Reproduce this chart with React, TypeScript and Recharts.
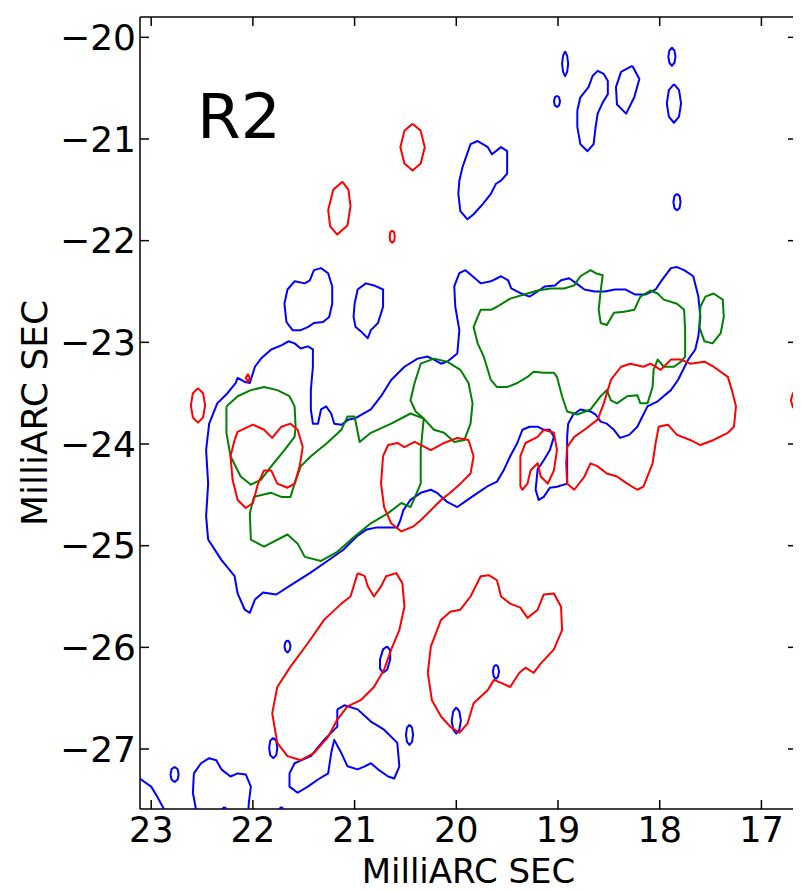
import React from 'react';
import { ComposedChart, Scatter, XAxis, YAxis, Customized } from 'recharts';

type Pt = [number, number];

// ---- axes / labels ----
const xTicks = [17, 18, 19, 20, 21, 22, 23];
const yTicks = [-27, -26, -25, -24, -23, -22, -21, -20];
const xDomain: [number, number] = [16.65, 23.11];
const yDomain: [number, number] = [-27.59, -19.8];
const axisTitle = 'MilliARC SEC';
const panelLabel = 'R2';

// ---- blue contours ----
const blueMain: Pt[] = [[22.44,-24.94],[22.46,-24.71],[22.44,-24.39],[22.46,-24.06],[22.43,-23.8],[22.35,-23.6],[22.25,-23.5],[22.17,-23.4],[22.15,-23.35],[22.08,-23.39],[22.03,-23.4],[21.98,-23.24],[21.92,-23.16],[21.82,-23.07],[21.72,-23.03],[21.65,-22.99],[21.59,-23.01],[21.53,-23.06],[21.46,-23.04],[21.41,-23.07],[21.41,-23.24],[21.43,-23.47],[21.43,-23.66],[21.41,-23.8],[21.36,-23.8],[21.33,-23.66],[21.28,-23.63],[21.23,-23.7],[21.2,-23.8],[21.13,-23.81],[21.06,-23.76],[21.0,-23.75],[20.84,-23.66],[20.74,-23.53],[20.64,-23.37],[20.51,-23.24],[20.38,-23.16],[20.28,-23.14],[20.22,-23.17],[20.15,-23.21],[20.09,-23.19],[19.99,-23.11],[19.97,-22.88],[20.01,-22.65],[20.02,-22.45],[19.97,-22.32],[19.91,-22.29],[19.84,-22.35],[19.76,-22.42],[19.66,-22.4],[19.56,-22.35],[19.49,-22.39],[19.46,-22.47],[19.36,-22.52],[19.28,-22.55],[19.2,-22.5],[19.13,-22.45],[19.03,-22.44],[18.97,-22.39],[18.89,-22.37],[18.82,-22.42],[18.74,-22.48],[18.64,-22.5],[18.54,-22.5],[18.44,-22.48],[18.34,-22.48],[18.24,-22.53],[18.14,-22.53],[18.04,-22.48],[17.98,-22.39],[17.89,-22.27],[17.83,-22.26],[17.76,-22.29],[17.67,-22.35],[17.62,-22.55],[17.6,-22.75],[17.62,-22.94],[17.65,-23.07],[17.72,-23.17],[17.77,-23.27],[17.82,-23.37],[17.89,-23.47],[18.02,-23.58],[18.12,-23.63],[18.17,-23.73],[18.22,-23.83],[18.3,-23.91],[18.39,-23.94],[18.45,-23.86],[18.52,-23.8],[18.58,-23.78],[18.63,-23.71],[18.68,-23.68],[18.78,-23.66],[18.85,-23.71],[18.9,-23.8],[18.91,-23.93],[18.91,-24.12],[18.91,-24.39],[19.01,-24.42],[19.08,-24.43],[19.14,-24.52],[19.19,-24.55],[19.22,-24.45],[19.2,-24.25],[19.14,-24.16],[19.08,-24.06],[19.04,-23.93],[19.08,-23.86],[19.14,-23.86],[19.2,-23.83],[19.28,-23.83],[19.35,-23.86],[19.4,-23.99],[19.47,-24.12],[19.53,-24.25],[19.6,-24.37],[19.7,-24.42],[19.79,-24.48],[19.89,-24.55],[19.99,-24.62],[20.09,-24.57],[20.19,-24.48],[20.25,-24.45],[20.35,-24.48],[20.45,-24.55],[20.52,-24.65],[20.55,-24.75],[20.58,-24.82],[20.78,-24.82],[20.88,-24.84],[20.98,-24.91],[21.11,-25.04],[21.31,-25.18],[21.44,-25.27],[21.6,-25.37],[21.77,-25.48],[21.9,-25.46],[21.98,-25.53],[22.03,-25.66],[22.08,-25.63],[22.15,-25.47],[22.18,-25.3],[22.31,-25.14]];
const blueTopBlobA: Pt[] = [[18.81,-20.72],[18.78,-20.59],[18.7,-20.49],[18.66,-20.38],[18.61,-20.33],[18.55,-20.36],[18.51,-20.43],[18.51,-20.56],[18.56,-20.64],[18.61,-20.75],[18.63,-20.88],[18.65,-21.05],[18.71,-21.12],[18.78,-21.05],[18.81,-20.88]];
const blueTopBlobB: Pt[] = [[18.27,-20.28],[18.2,-20.41],[18.25,-20.59],[18.33,-20.75],[18.42,-20.66],[18.43,-20.49],[18.38,-20.34]];
const blueTopDot1: Pt[] = [[18.93,-20.14],[18.91,-20.18],[18.9,-20.26],[18.91,-20.34],[18.93,-20.38],[18.95,-20.34],[18.96,-20.26],[18.95,-20.18]];
const blueTopDot2: Pt[] = [[19.01,-20.575],[18.99,-20.59],[18.98,-20.63],[18.99,-20.67],[19.01,-20.685],[19.03,-20.67],[19.04,-20.63],[19.03,-20.59]];
const blueTopDot3: Pt[] = [[17.88,-20.1],[17.855,-20.13],[17.845,-20.19],[17.855,-20.25],[17.88,-20.28],[17.905,-20.25],[17.915,-20.19],[17.905,-20.13]];
const blueTopOval: Pt[] = [[17.86,-20.46],[17.81,-20.52],[17.79,-20.65],[17.81,-20.78],[17.86,-20.84],[17.91,-20.78],[17.93,-20.65],[17.91,-20.52]];
const blueTopDot4: Pt[] = [[17.83,-21.54],[17.805,-21.56],[17.795,-21.62],[17.805,-21.68],[17.83,-21.7],[17.855,-21.68],[17.865,-21.62],[17.855,-21.56]];
const blueBlobC: Pt[] = [[19.97,-21.41],[19.94,-21.28],[19.86,-21.05],[19.79,-21.02],[19.69,-21.08],[19.65,-21.15],[19.56,-21.08],[19.5,-21.12],[19.5,-21.34],[19.56,-21.41],[19.61,-21.44],[19.66,-21.54],[19.74,-21.64],[19.83,-21.74],[19.89,-21.79],[19.96,-21.71],[19.98,-21.54]];
const blueBlobD: Pt[] = [[21.69,-22.62],[21.66,-22.48],[21.59,-22.4],[21.49,-22.42],[21.44,-22.39],[21.4,-22.29],[21.33,-22.27],[21.26,-22.32],[21.22,-22.45],[21.22,-22.62],[21.25,-22.75],[21.31,-22.8],[21.4,-22.81],[21.46,-22.85],[21.53,-22.88],[21.61,-22.88],[21.67,-22.8]];
const blueBlobE: Pt[] = [[21.0,-22.62],[20.97,-22.48],[20.89,-22.42],[20.81,-22.44],[20.72,-22.48],[20.72,-22.65],[20.77,-22.81],[20.84,-22.88],[20.87,-22.96],[20.94,-22.89],[20.99,-22.85],[21.01,-22.75]];
const blueLowBlob: Pt[] = [[21.17,-26.61],[21.1,-26.57],[20.97,-26.61],[20.84,-26.73],[20.71,-26.81],[20.58,-26.94],[20.56,-27.17],[20.61,-27.29],[20.67,-27.27],[20.77,-27.2],[20.84,-27.14],[20.9,-27.17],[20.97,-27.2],[21.07,-27.17],[21.13,-27.04],[21.2,-26.91],[21.23,-27.04],[21.26,-27.24],[21.36,-27.3],[21.46,-27.37],[21.56,-27.43],[21.64,-27.37],[21.64,-27.24],[21.59,-27.14],[21.43,-27.07],[21.3,-26.91],[21.17,-26.78]];
const blueCornerBlob: Pt[] = [[22.58,-27.24],[22.51,-27.14],[22.43,-27.09],[22.36,-27.11],[22.31,-27.2],[22.22,-27.27],[22.15,-27.24],[22.07,-27.25],[22.02,-27.37],[22.04,-27.53],[22.05,-27.7],[22.54,-27.7],[22.59,-27.43]];
const blueEdgeBlob: Pt[] = [[23.2,-27.16],[23.1,-27.3],[23.0,-27.37],[22.94,-27.47],[22.87,-27.6],[22.85,-27.72],[23.2,-27.72]];
const blueLowDot1: Pt[] = [[19.61,-26.17],[19.59,-26.19],[19.58,-26.24],[19.59,-26.29],[19.61,-26.31],[19.63,-26.29],[19.64,-26.24],[19.63,-26.19]];
const blueLowDot2: Pt[] = [[20.0,-26.59],[19.97,-26.63],[19.955,-26.72],[19.97,-26.81],[20.0,-26.85],[20.03,-26.81],[20.045,-26.72],[20.03,-26.63]];
const blueLowDot3: Pt[] = [[20.46,-26.76],[20.435,-26.79],[20.425,-26.86],[20.435,-26.93],[20.46,-26.96],[20.485,-26.93],[20.495,-26.86],[20.485,-26.79]];
const blueLowDot4: Pt[] = [[20.68,-25.99],[20.65,-26.03],[20.65,-26.12],[20.68,-26.22],[20.72,-26.25],[20.75,-26.21],[20.75,-26.12],[20.72,-26.02]];
const blueLowDot5: Pt[] = [[21.66,-25.93],[21.64,-25.95],[21.63,-25.99],[21.64,-26.03],[21.66,-26.05],[21.68,-26.03],[21.69,-25.99],[21.68,-25.95]];
const blueLowDot6: Pt[] = [[21.8,-26.89],[21.77,-26.92],[21.76,-26.99],[21.77,-27.06],[21.8,-27.09],[21.83,-27.06],[21.84,-26.99],[21.83,-26.92]];
const blueLowDot7: Pt[] = [[22.77,-27.175],[22.74,-27.2],[22.73,-27.25],[22.74,-27.3],[22.77,-27.325],[22.8,-27.3],[22.81,-27.25],[22.8,-27.2]];
const blueEdgeDot1: Pt[] = [[22.28,-27.57],[22.26,-27.59],[22.25,-27.63],[22.26,-27.67],[22.28,-27.69],[22.3,-27.67],[22.31,-27.63],[22.3,-27.59]];
const blueEdgeDot2: Pt[] = [[21.72,-27.57],[21.7,-27.59],[21.69,-27.63],[21.7,-27.67],[21.72,-27.69],[21.74,-27.67],[21.75,-27.63],[21.74,-27.59]];

// ---- green contours ----
const greenLeft: Pt[] = [[22.26,-23.63],[22.15,-23.53],[22.02,-23.47],[21.89,-23.44],[21.76,-23.47],[21.64,-23.53],[21.59,-23.63],[21.58,-23.83],[21.59,-23.93],[21.69,-24.06],[21.82,-24.22],[21.92,-24.35],[22.02,-24.4],[22.12,-24.32],[22.22,-24.12],[22.26,-23.89]];
const greenLower: Pt[] = [[22.03,-24.68],[21.99,-24.52],[21.82,-24.48],[21.72,-24.52],[21.63,-24.52],[21.59,-24.39],[21.53,-24.22],[21.43,-24.12],[21.27,-23.99],[21.13,-23.86],[21.07,-23.73],[21.0,-23.73],[20.95,-23.98],[20.84,-23.89],[20.64,-23.8],[20.45,-23.7],[20.32,-23.75],[20.35,-24.06],[20.35,-24.39],[20.45,-24.62],[20.54,-24.58],[20.67,-24.68],[20.84,-24.78],[21.0,-24.91],[21.17,-25.06],[21.33,-25.15],[21.49,-25.11],[21.56,-24.98],[21.66,-24.89],[21.89,-25.01],[22.02,-24.94]];
const greenMid: Pt[] = [[20.41,-23.4],[20.35,-23.21],[20.22,-23.16],[20.09,-23.19],[19.96,-23.27],[19.88,-23.4],[19.84,-23.6],[19.86,-23.8],[19.92,-23.96],[20.02,-23.98],[20.12,-23.89],[20.22,-23.86],[20.32,-23.75],[20.4,-23.68],[20.45,-23.57]];
const greenUpper: Pt[] = [[19.79,-22.75],[19.76,-22.68],[19.66,-22.68],[19.6,-22.65],[19.47,-22.57],[19.3,-22.52],[19.2,-22.49],[19.07,-22.47],[18.94,-22.47],[18.84,-22.44],[18.78,-22.35],[18.68,-22.29],[18.63,-22.32],[18.56,-22.34],[18.58,-22.49],[18.6,-22.68],[18.58,-22.81],[18.52,-22.83],[18.45,-22.71],[18.35,-22.7],[18.25,-22.68],[18.19,-22.55],[18.09,-22.49],[18.02,-22.52],[17.96,-22.58],[17.83,-22.62],[17.76,-22.68],[17.75,-22.88],[17.75,-23.14],[17.79,-23.19],[17.86,-23.24],[17.96,-23.24],[18.02,-23.17],[18.06,-23.27],[18.07,-23.44],[18.12,-23.6],[18.19,-23.6],[18.22,-23.52],[18.32,-23.53],[18.42,-23.6],[18.48,-23.57],[18.52,-23.47],[18.58,-23.53],[18.68,-23.66],[18.81,-23.71],[18.91,-23.68],[18.96,-23.53],[19.01,-23.34],[19.04,-23.3],[19.14,-23.3],[19.24,-23.29],[19.3,-23.34],[19.4,-23.4],[19.5,-23.44],[19.6,-23.44],[19.66,-23.37],[19.73,-23.14],[19.79,-23.01],[19.83,-22.85]];
const greenRight: Pt[] = [[17.6,-22.65],[17.55,-22.55],[17.47,-22.52],[17.38,-22.58],[17.37,-22.75],[17.4,-22.91],[17.48,-23.01],[17.56,-22.99],[17.61,-22.85]];

// ---- red contours ----
const redTopA: Pt[] = [[20.43,-20.85],[20.35,-20.92],[20.31,-21.08],[20.35,-21.24],[20.43,-21.31],[20.51,-21.24],[20.55,-21.08],[20.51,-20.92]];
const redTopB: Pt[] = [[21.12,-21.42],[21.06,-21.5],[21.04,-21.66],[21.07,-21.85],[21.17,-21.94],[21.24,-21.86],[21.26,-21.7],[21.21,-21.5]];
const redTopDot: Pt[] = [[20.63,-21.9],[20.61,-21.92],[20.605,-21.96],[20.61,-22.0],[20.63,-22.02],[20.65,-22.0],[20.655,-21.96],[20.65,-21.92]];
const redFarLeft: Pt[] = [[22.54,-23.45],[22.49,-23.5],[22.47,-23.62],[22.49,-23.74],[22.54,-23.79],[22.59,-23.74],[22.61,-23.62],[22.59,-23.5]];
const redTick: Pt[] = [[22.05,-23.31],[22.03,-23.35],[22.05,-23.39],[22.07,-23.35]];
const redLeft: Pt[] = [[22.18,-23.96],[22.15,-23.88],[22.0,-23.81],[21.89,-23.86],[21.81,-23.94],[21.72,-23.83],[21.63,-23.8],[21.56,-23.86],[21.51,-24.03],[21.54,-24.22],[21.59,-24.39],[21.66,-24.43],[21.76,-24.39],[21.82,-24.26],[21.89,-24.26],[21.95,-24.39],[22.0,-24.58],[22.07,-24.63],[22.15,-24.55],[22.2,-24.35],[22.22,-24.12]];
const redMid: Pt[] = [[20.72,-24.12],[20.67,-24.01],[20.58,-23.99],[20.51,-24.03],[20.41,-23.98],[20.25,-24.06],[20.12,-23.99],[19.99,-23.94],[19.88,-23.96],[19.83,-24.12],[19.86,-24.29],[19.96,-24.39],[20.06,-24.48],[20.15,-24.55],[20.25,-24.65],[20.35,-24.75],[20.42,-24.81],[20.54,-24.86],[20.64,-24.78],[20.71,-24.62],[20.74,-24.39]];
const redSmallMid: Pt[] = [[19.37,-24.42],[19.37,-24.12],[19.32,-23.99],[19.2,-23.93],[19.14,-23.86],[19.04,-23.89],[19.01,-24.06],[19.04,-24.26],[19.1,-24.39],[19.17,-24.32],[19.2,-24.19],[19.27,-24.26],[19.3,-24.39],[19.35,-24.45]];
const redRight: Pt[] = [[18.91,-24.03],[18.84,-23.93],[18.74,-23.86],[18.61,-23.76],[18.55,-23.6],[18.48,-23.37],[18.38,-23.24],[18.29,-23.21],[18.16,-23.24],[18.09,-23.21],[17.99,-23.27],[17.89,-23.17],[17.79,-23.17],[17.7,-23.21],[17.56,-23.19],[17.47,-23.24],[17.33,-23.34],[17.29,-23.47],[17.25,-23.63],[17.27,-23.83],[17.33,-23.89],[17.47,-23.96],[17.6,-24.01],[17.7,-23.96],[17.83,-23.91],[17.92,-23.81],[18.01,-23.83],[18.04,-23.99],[18.07,-24.19],[18.16,-24.42],[18.22,-24.45],[18.32,-24.39],[18.42,-24.32],[18.52,-24.29],[18.61,-24.22],[18.68,-24.19],[18.74,-24.32],[18.84,-24.45],[18.91,-24.39],[18.92,-24.19]];
const redEdge: Pt[] = [[16.63,-23.47],[16.57,-23.5],[16.55,-23.57],[16.57,-23.64],[16.63,-23.67],[16.69,-23.64],[16.71,-23.57],[16.69,-23.5]];
const redLowLeft: Pt[] = [[20.97,-25.27],[20.9,-25.3],[20.87,-25.4],[20.81,-25.5],[20.74,-25.4],[20.69,-25.3],[20.59,-25.27],[20.53,-25.37],[20.51,-25.6],[20.56,-25.83],[20.64,-26.02],[20.71,-26.22],[20.81,-26.39],[20.94,-26.52],[21.07,-26.58],[21.17,-26.71],[21.26,-26.88],[21.4,-27.04],[21.53,-27.11],[21.66,-27.07],[21.76,-26.94],[21.81,-26.65],[21.76,-26.39],[21.63,-26.19],[21.46,-25.96],[21.3,-25.73],[21.13,-25.57],[21.04,-25.5]];
const redLowMid: Pt[] = [[20.28,-26.25],[20.25,-25.99],[20.15,-25.73],[20.06,-25.65],[19.96,-25.63],[19.86,-25.5],[19.76,-25.3],[19.68,-25.29],[19.6,-25.34],[19.56,-25.5],[19.47,-25.57],[19.37,-25.61],[19.3,-25.71],[19.2,-25.63],[19.14,-25.48],[19.04,-25.47],[18.97,-25.6],[18.96,-25.83],[19.04,-26.02],[19.17,-26.16],[19.24,-26.25],[19.32,-26.2],[19.38,-26.25],[19.47,-26.39],[19.56,-26.35],[19.63,-26.32],[19.69,-26.42],[19.83,-26.55],[19.89,-26.75],[19.97,-26.84],[20.06,-26.78],[20.15,-26.68],[20.24,-26.52]];

const BLUE = '#0000ff';
const RED = '#ff0000';
const GREEN = '#008000';

const contours: { id: string; pts: Pt[]; color: string }[] = [
  { id: 'blueMain', pts: blueMain, color: BLUE },
  { id: 'blueTopBlobA', pts: blueTopBlobA, color: BLUE },
  { id: 'blueTopBlobB', pts: blueTopBlobB, color: BLUE },
  { id: 'blueTopDot1', pts: blueTopDot1, color: BLUE },
  { id: 'blueTopDot2', pts: blueTopDot2, color: BLUE },
  { id: 'blueTopDot3', pts: blueTopDot3, color: BLUE },
  { id: 'blueTopOval', pts: blueTopOval, color: BLUE },
  { id: 'blueTopDot4', pts: blueTopDot4, color: BLUE },
  { id: 'blueBlobC', pts: blueBlobC, color: BLUE },
  { id: 'blueBlobD', pts: blueBlobD, color: BLUE },
  { id: 'blueBlobE', pts: blueBlobE, color: BLUE },
  { id: 'blueLowBlob', pts: blueLowBlob, color: BLUE },
  { id: 'blueCornerBlob', pts: blueCornerBlob, color: BLUE },
  { id: 'blueEdgeBlob', pts: blueEdgeBlob, color: BLUE },
  { id: 'blueLowDot1', pts: blueLowDot1, color: BLUE },
  { id: 'blueLowDot2', pts: blueLowDot2, color: BLUE },
  { id: 'blueLowDot3', pts: blueLowDot3, color: BLUE },
  { id: 'blueLowDot4', pts: blueLowDot4, color: BLUE },
  { id: 'blueLowDot5', pts: blueLowDot5, color: BLUE },
  { id: 'blueLowDot6', pts: blueLowDot6, color: BLUE },
  { id: 'blueLowDot7', pts: blueLowDot7, color: BLUE },
  { id: 'blueEdgeDot1', pts: blueEdgeDot1, color: BLUE },
  { id: 'blueEdgeDot2', pts: blueEdgeDot2, color: BLUE },
  { id: 'greenLeft', pts: greenLeft, color: GREEN },
  { id: 'greenLower', pts: greenLower, color: GREEN },
  { id: 'greenMid', pts: greenMid, color: GREEN },
  { id: 'greenUpper', pts: greenUpper, color: GREEN },
  { id: 'greenRight', pts: greenRight, color: GREEN },
  { id: 'redTopA', pts: redTopA, color: RED },
  { id: 'redTopB', pts: redTopB, color: RED },
  { id: 'redTopDot', pts: redTopDot, color: RED },
  { id: 'redFarLeft', pts: redFarLeft, color: RED },
  { id: 'redTick', pts: redTick, color: RED },
  { id: 'redLeft', pts: redLeft, color: RED },
  { id: 'redMid', pts: redMid, color: RED },
  { id: 'redSmallMid', pts: redSmallMid, color: RED },
  { id: 'redRight', pts: redRight, color: RED },
  { id: 'redEdge', pts: redEdge, color: RED },
  { id: 'redLowLeft', pts: redLowLeft, color: RED },
  { id: 'redLowMid', pts: redLowMid, color: RED },
];

// ---- layout ----
const W = 793;
const H = 883;
const MARGIN = { top: 9, right: 4, bottom: 0, left: 0 };
const Y_AXIS_W = 132;
const X_AXIS_H = 82;
const PLOT_W = W - Y_AXIS_W - MARGIN.right;
const PLOT_H = H - MARGIN.top - X_AXIS_H;
const FONT = '"DejaVu Sans", "Bitstream Vera Sans", sans-serif';
const FS = 36;
const FS_X = 35;
const FS_XTITLE = 34;
const TICK_LEN = 9;
const FRAME = { stroke: '#000', strokeWidth: 1.5 };

const fmt = (v: number) => (v < 0 ? `\u2212${Math.abs(v)}` : `${v}`);
const NoMark = () => <g />;
const NoTickLabel = () => <g />;

const Texts = () => {
  const cx = Y_AXIS_W + PLOT_W / 2;
  const cy = MARGIN.top + PLOT_H / 2;
  const yx = 38.7;
  return (
    <g fontFamily={FONT} fill="#000">
      <text x={cx} y={MARGIN.top + PLOT_H + 73.5} textAnchor="middle" fontSize={FS_XTITLE}>
        {axisTitle}
      </text>
      <text x={yx} y={cy} textAnchor="middle" fontSize={FS} transform={`rotate(-90, ${yx}, ${cy})`}>
        {axisTitle}
      </text>
      <text x={Y_AXIS_W + 57} y={MARGIN.top + 121} fontSize={63}>
        {panelLabel}
      </text>
    </g>
  );
};

export default function App() {
  const yTickStyle = { fontSize: FS, fontFamily: FONT, fill: '#000' };
  const xTickStyle = { fontSize: FS_X, fontFamily: FONT, fill: '#000' };
  return (
    <div style={{ width: W, height: H }}>
      <ComposedChart width={W} height={H} margin={MARGIN}>
        {/* label axes */}
        <XAxis xAxisId="b" type="number" dataKey="x" domain={xDomain} reversed allowDataOverflow
          ticks={xTicks} tickFormatter={fmt} height={X_AXIS_H} axisLine={false} tickLine={false}
          tickSize={0} tickMargin={8} tick={xTickStyle} interval={0} />
        <YAxis yAxisId="l" type="number" dataKey="y" domain={yDomain} allowDataOverflow
          ticks={yTicks} tickFormatter={fmt} width={Y_AXIS_W} axisLine={false} tickLine={false}
          tickSize={0} tickMargin={4} tick={yTickStyle} interval={0} />
        {/* frame with inward ticks */}
        <XAxis xAxisId="bm" type="number" dataKey="x" domain={xDomain} reversed allowDataOverflow
          ticks={xTicks} mirror orientation="bottom" tick={NoTickLabel} tickSize={TICK_LEN}
          axisLine={FRAME} tickLine={FRAME} interval={0} />
        <XAxis xAxisId="tm" type="number" dataKey="x" domain={xDomain} reversed allowDataOverflow
          ticks={xTicks} mirror orientation="top" tick={NoTickLabel} tickSize={TICK_LEN}
          axisLine={FRAME} tickLine={FRAME} interval={0} />
        <YAxis yAxisId="lm" type="number" dataKey="y" domain={yDomain} allowDataOverflow
          ticks={yTicks} mirror orientation="left" tick={NoTickLabel} tickSize={TICK_LEN}
          axisLine={FRAME} tickLine={FRAME} interval={0} />
        <YAxis yAxisId="rm" type="number" dataKey="y" domain={yDomain} allowDataOverflow
          ticks={yTicks} mirror orientation="right" tick={NoTickLabel} tickSize={TICK_LEN}
          axisLine={FRAME} tickLine={FRAME} interval={0} />
        {contours.map((c) => (
          <Scatter
            key={c.id}
            name={c.id}
            xAxisId="b"
            yAxisId="l"
            data={c.pts.concat([c.pts[0]]).map(([x, y]) => ({ x, y }))}
            line={{ stroke: c.color, strokeWidth: 2, strokeLinejoin: 'round' }}
            lineType="joint"
            shape={NoMark}
            fill="none"
            isAnimationActive={false}
          />
        ))}
        <Customized component={Texts} />
      </ComposedChart>
    </div>
  );
}
